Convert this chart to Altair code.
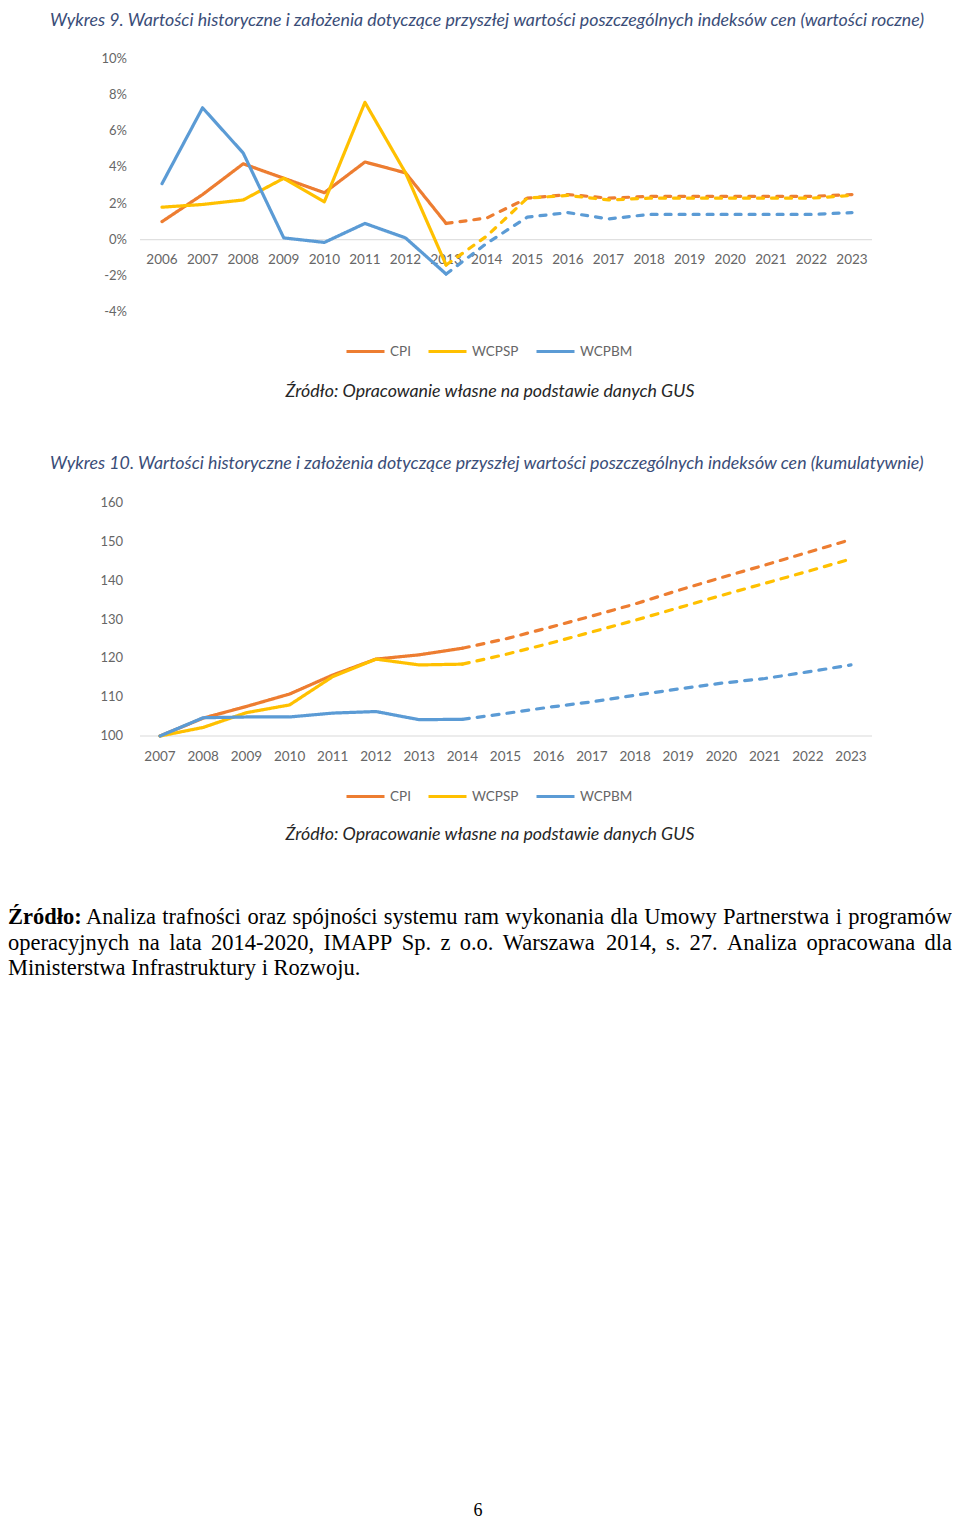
import altair as alt
import pandas as pd

# ---------------- data ----------------
SERIES = ["CPI", "WCPSP", "WCPBM"]
COLORS = ["#ED7D31", "#FFC000", "#5B9BD5"]

years_annual = list(range(2006, 2024))
cpi_annual = [1.0, 2.5, 4.2, 3.4, 2.6, 4.3, 3.7, 0.9, 1.2, 2.3, 2.5, 2.3, 2.4, 2.4, 2.4, 2.4, 2.4, 2.5]
wcpsp_annual = [1.8, 1.95, 2.2, 3.4, 2.1, 7.6, 3.7, -1.4, 0.2, 2.3, 2.45, 2.2, 2.3, 2.3, 2.3, 2.3, 2.3, 2.45]
wcpbm_annual = [3.1, 7.3, 4.8, 0.1, -0.15, 0.9, 0.1, -1.9, -0.2, 1.25, 1.5, 1.15, 1.4, 1.4, 1.4, 1.4, 1.4, 1.5]
hist_end_annual = 2013

years_cum = list(range(2007, 2024))
cpi_cum = [100, 104.6, 107.6, 110.8, 115.7, 119.8, 120.9, 122.6, 125.0, 127.9, 130.9, 134.0, 137.5, 140.8, 144.0, 147.3, 150.6]
wcpsp_cum = [100, 102.2, 106.0, 108.0, 115.3, 119.8, 118.3, 118.5, 121.0, 123.8, 126.8, 129.8, 133.0, 136.2, 139.3, 142.4, 145.6]
wcpbm_cum = [100, 104.7, 104.9, 104.9, 105.9, 106.3, 104.2, 104.3, 105.8, 107.4, 108.8, 110.5, 112.1, 113.6, 114.8, 116.5, 118.3]
hist_end_cum = 2014

y_ticks_annual = [-4, -2, 0, 2, 4, 6, 8, 10]
y_ticks_cum = [100, 110, 120, 130, 140, 150, 160]

title_top = "Wykres 9. Wartości historyczne i założenia dotyczące przyszłej wartości poszczególnych indeksów cen (wartości roczne)"
title_bot = "Wykres 10. Wartości historyczne i założenia dotyczące przyszłej wartości poszczególnych indeksów cen (kumulatywnie)"
source_text = "Źródło: Opracowanie własne na podstawie danych GUS"
foot_bold = "Źródło:"
foot_lines = [
    "Analiza trafności oraz spójności systemu ram wykonania dla Umowy Partnerstwa i programów",
    "operacyjnych na lata 2014-2020, IMAPP Sp. z o.o. Warszawa 2014, s. 27. Analiza opracowana dla",
    "Ministerstwa Infrastruktury i Rozwoju.",
]
page_number = "6"

# ---------------- helpers ----------------
SANS = "Lato"
SERIF = "Liberation Serif"
TITLE_COLOR = "#3A4D78"
AXIS_COLOR = "#666666"
FOOT_SIZE = 22.5

# Times / Liberation Serif advance widths (per 1000 em), used only to justify the footnote text
_W = {" ": 250, ",": 250, "-": 333, ".": 250, ":": 278}
_W.update({d: 500 for d in "0123456789"})
_W.update(dict(zip("ABCDEFGHIJKLMNOPQRSTUVWXYZ",
                   [722, 667, 667, 722, 611, 556, 722, 722, 333, 389, 722, 611, 889,
                    722, 722, 556, 722, 667, 556, 611, 722, 722, 944, 722, 722, 611])))
_W.update(dict(zip("abcdefghijklmnopqrstuvwxyz",
                   [444, 500, 444, 500, 444, 333, 500, 500, 278, 278, 500, 278, 778,
                    500, 500, 500, 500, 333, 389, 278, 500, 500, 722, 500, 500, 444])))
_W.update({"ś": 389, "ó": 500, "ł": 278, "ż": 444, "ź": 444, "ć": 444, "ą": 444,
           "ę": 444, "ń": 500, "Ź": 611})


def text_width(s, size):
    return sum(_W.get(ch, 500) for ch in s) * size / 1000.0


def justified_words(line, x0, x1, y, size):
    words = line.split(" ")
    widths = [text_width(w, size) for w in words]
    gap = (x1 - x0 - sum(widths)) / (len(words) - 1)
    xs, cur = [], x0
    for w in widths:
        xs.append(cur)
        cur += w + gap
    return alt.Chart(pd.DataFrame({"w": words, "px": xs})).mark_text(
        align="left", baseline="middle", font=SERIF, fontSize=size, color="#000000"
    ).encode(x=alt.X("px:Q", scale=None), y=alt.value(y), text="w:N")


def long_frame(years, cols, split):
    rows = []
    for name, vals in zip(SERIES, cols):
        for yr, v in zip(years, vals):
            if yr <= split:
                rows.append({"series": name, "year": yr, "value": v, "segment": "hist"})
            if yr >= split:
                rows.append({"series": name, "year": yr, "value": v, "segment": "fc"})
    return pd.DataFrame(rows)


def text_layer(txt, x, y, **kw):
    return alt.Chart(pd.DataFrame({"t": [txt]})).mark_text(**kw).encode(
        x=alt.value(x), y=alt.value(y), text="t:N"
    )


def panel(years, cols, split, xdom, xrange, ydom, yrange, yticks, ylab_fmt,
          ylab_x, xlab_y, grid_val, legend_y, dash):
    xs = alt.Scale(domain=xdom, range=xrange)
    ys = alt.Scale(domain=ydom, range=yrange, zero=False, nice=False)
    df = long_frame(years, cols, split)
    grid = alt.Chart(pd.DataFrame({"v": [grid_val]})).mark_rule(
        color="#D9D9D9", strokeWidth=1
    ).encode(y=alt.Y("v:Q", scale=ys, axis=None), x=alt.value(132), x2=alt.value(864))
    ylab = alt.Chart(pd.DataFrame({"v": yticks, "lab": [ylab_fmt(t) for t in yticks]})).mark_text(
        align="right", baseline="middle", font=SANS, fontSize=13, color=AXIS_COLOR
    ).encode(x=alt.value(ylab_x), y=alt.Y("v:Q", scale=ys, axis=None), text="lab:N")
    xlab = alt.Chart(pd.DataFrame({"yr": years, "lab": [str(y) for y in years]})).mark_text(
        align="center", baseline="middle", font=SANS, fontSize=13.5, color=AXIS_COLOR
    ).encode(x=alt.X("yr:Q", scale=xs, axis=None), y=alt.value(xlab_y), text="lab:N")
    lines = alt.Chart(df).mark_line(
        strokeWidth=3.2, strokeCap="round", strokeJoin="round"
    ).encode(
        x=alt.X("year:Q", scale=xs, axis=None),
        y=alt.Y("value:Q", scale=ys, axis=None),
        color=alt.Color(
            "series:N",
            scale=alt.Scale(domain=SERIES, range=COLORS),
            sort=SERIES,
            legend=alt.Legend(
                orient="none", legendX=337, legendY=legend_y, direction="horizontal",
                title=None, symbolType="stroke", symbolSize=1444, symbolStrokeWidth=3,
                labelFont=SANS, labelFontSize=13.5, labelColor=AXIS_COLOR,
                columnPadding=11, labelOffset=4,
            ),
        ),
        strokeDash=alt.StrokeDash(
            "segment:N",
            scale=alt.Scale(domain=["hist", "fc"], range=[[1, 0], dash]),
            legend=None,
        ),
        detail="series:N",
    )
    return [grid, ylab, xlab, lines]


top = panel(years_annual, [cpi_annual, wcpsp_annual, wcpbm_annual], hist_end_annual,
            [2006, 2023], [154, 844], [-4, 10], [304, 51], y_ticks_annual,
            lambda t: f"{t}%", 119, 252, 0, 323, [6, 8])
bot = panel(years_cum, [cpi_cum, wcpsp_cum, wcpbm_cum], hist_end_cum,
            [2007, 2023], [152, 843], [100, 160], [728, 495], y_ticks_cum,
            lambda t: f"{t}", 115, 749, 100, 768, [7, 8])

texts = [
    text_layer(title_top, 42, 13, align="left", baseline="middle", font=SANS,
               fontStyle="italic", fontSize=17.8, color=TITLE_COLOR),
    text_layer(title_bot, 42, 456, align="left", baseline="middle", font=SANS,
               fontStyle="italic", fontSize=17.8, color=TITLE_COLOR),
    text_layer(source_text, 482, 384, align="center", baseline="middle", font=SANS,
               fontStyle="italic", fontSize=17.8, color="#262626"),
    text_layer(source_text, 482, 827, align="center", baseline="middle", font=SANS,
               fontStyle="italic", fontSize=17.8, color="#262626"),
    text_layer(foot_bold, 0, 909, align="left", baseline="middle", font=SERIF,
               fontWeight="bold", fontSize=FOOT_SIZE, color="#000000"),
    justified_words(foot_lines[0], 78, 944, 909, FOOT_SIZE),
    justified_words(foot_lines[1], 0, 944, 935, FOOT_SIZE),
    text_layer(foot_lines[2], 0, 960, align="left", baseline="middle", font=SERIF,
               fontSize=FOOT_SIZE, color="#000000"),
    text_layer(page_number, 470, 1512, align="center", baseline="bottom", font=SERIF,
               fontSize=18, color="#000000"),
]

chart = alt.layer(*(top + bot + texts)).resolve_scale(
    x="independent", y="independent", color="independent", strokeDash="independent"
).properties(
    width=944, height=1512, padding=0, autosize="none", background="white"
).configure_view(stroke=None)

chart.save("out.html", embed_options={"renderer": "svg", "actions": False})
